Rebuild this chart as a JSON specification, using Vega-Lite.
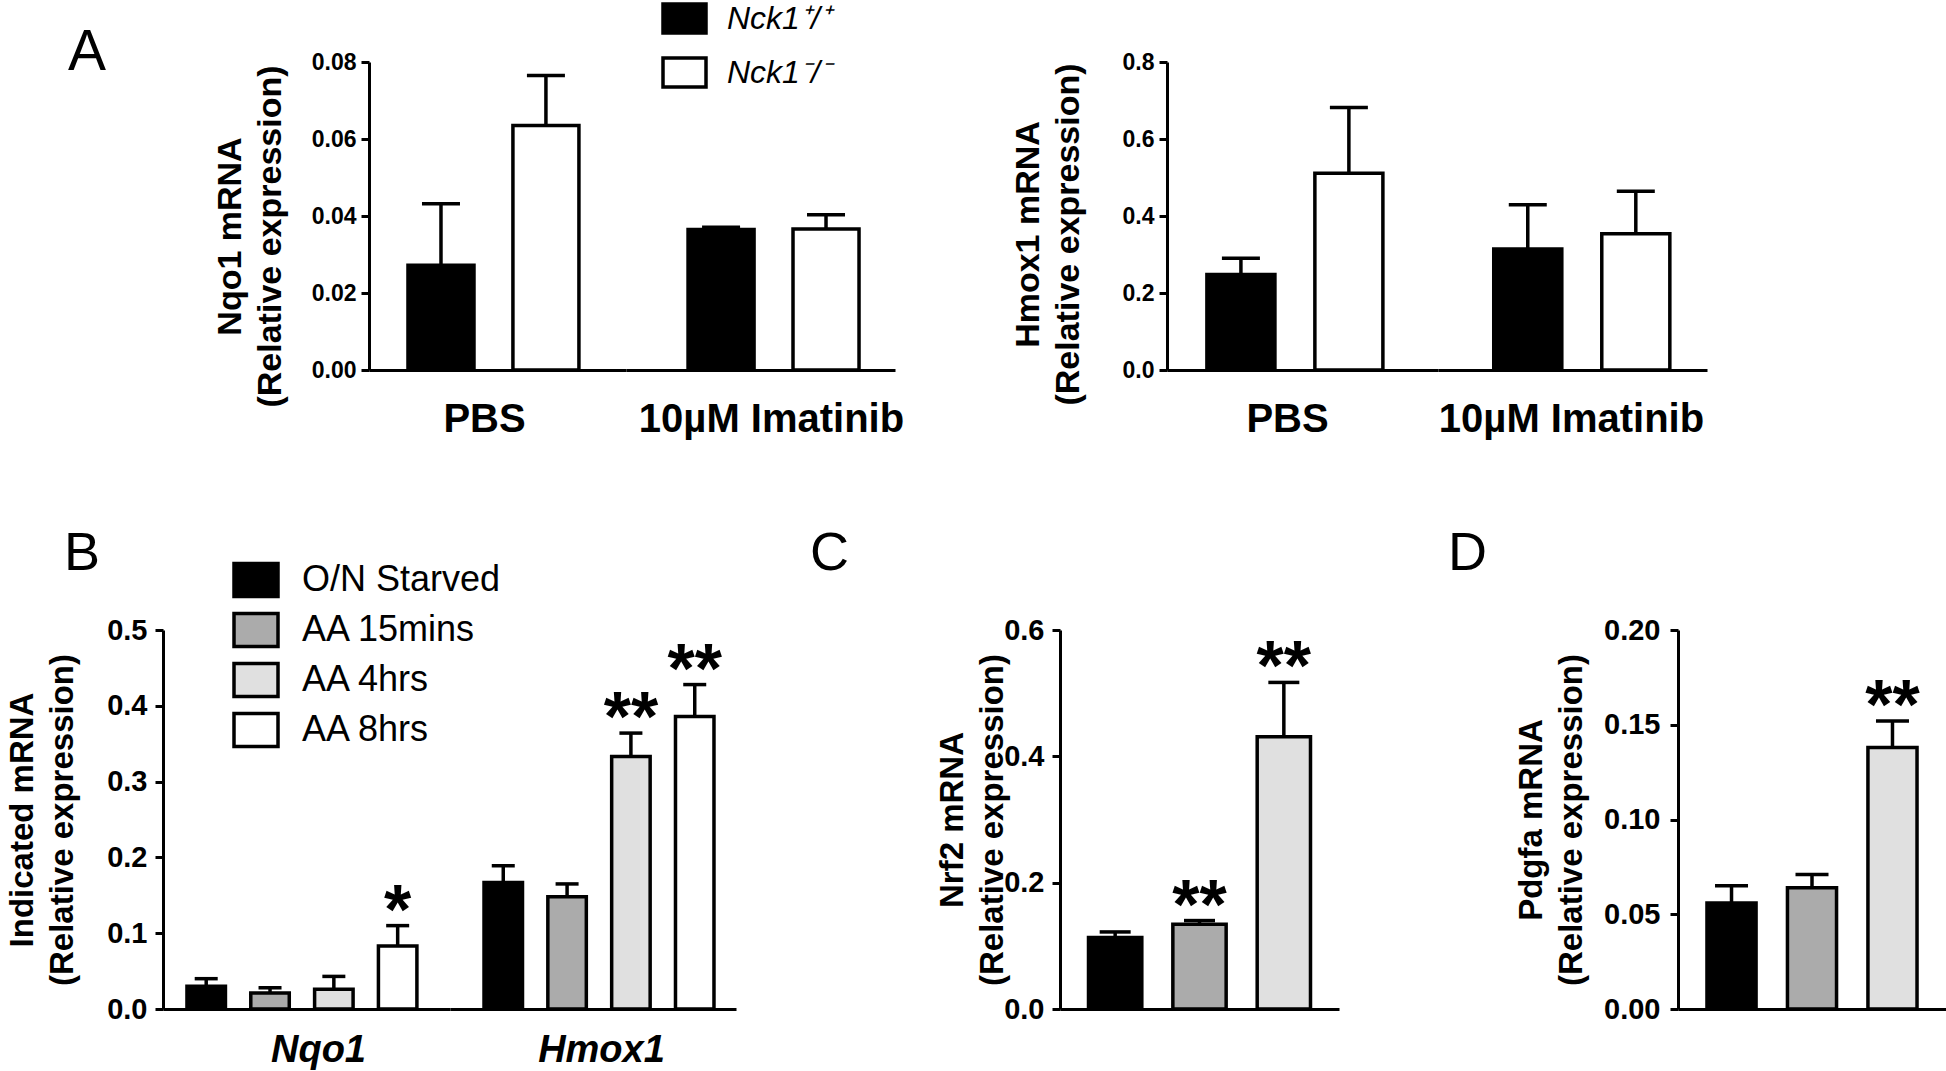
{
  "$schema": "https://vega.github.io/schema/vega-lite/v6.json",
  "autosize": {"type": "none"},
  "padding": {"left": 163, "top": 62, "right": 1783, "bottom": 1009},
  "background": "white",
  "config": {
    "view": {"stroke": null},
    "font": "Liberation Sans",
    "axis": {"domainColor": "black", "domainWidth": 3, "tickColor": "black", "tickWidth": 3, "tickSize": 8, "labelColor": "black", "titleColor": "black", "labelFont": "Liberation Sans", "titleFont": "Liberation Sans", "labelFontWeight": "bold", "titleFontWeight": "bold", "grid": false, "labelOverlap": false, "titleLineHeight": 40, "titleFontSize": 33, "labelLimit": 500},
    "title": {"font": "Liberation Sans", "fontWeight": "normal", "color": "black", "anchor": "start", "frame": "group", "baseline": "alphabetic", "fontSize": 54},
    "bar": {"stroke": "black", "strokeWidth": 3.5},
    "rule": {"strokeWidth": 3.5, "color": "black"},
    "tick": {"thickness": 3.5, "color": "black", "opacity": 1},
    "text": {"fontSize": 70, "fontWeight": "bold", "baseline": "alphabetic", "dy": 8, "color": "black"}
  },
  "datasets": {
    "nqo1A": [
      {"treatment": "PBS", "genotype": "Nck1⁺/⁺", "mean": 0.0272, "upper": 0.0432},
      {"treatment": "PBS", "genotype": "Nck1⁻/⁻", "mean": 0.0635, "upper": 0.0765},
      {"treatment": "10µM Imatinib", "genotype": "Nck1⁺/⁺", "mean": 0.0365, "upper": 0.0371},
      {"treatment": "10µM Imatinib", "genotype": "Nck1⁻/⁻", "mean": 0.0366, "upper": 0.0403}
    ],
    "hmox1A": [
      {"treatment": "PBS", "genotype": "Nck1⁺/⁺", "mean": 0.248, "upper": 0.290},
      {"treatment": "PBS", "genotype": "Nck1⁻/⁻", "mean": 0.511, "upper": 0.682},
      {"treatment": "10µM Imatinib", "genotype": "Nck1⁺/⁺", "mean": 0.314, "upper": 0.429},
      {"treatment": "10µM Imatinib", "genotype": "Nck1⁻/⁻", "mean": 0.354, "upper": 0.464}
    ],
    "panelB": [
      {"gene": "Nqo1", "condition": "O/N Starved", "mean": 0.030, "upper": 0.040, "sig": ""},
      {"gene": "Nqo1", "condition": "AA 15mins", "mean": 0.021, "upper": 0.028, "sig": ""},
      {"gene": "Nqo1", "condition": "AA 4hrs", "mean": 0.026, "upper": 0.043, "sig": ""},
      {"gene": "Nqo1", "condition": "AA 8hrs", "mean": 0.083, "upper": 0.110, "sig": "*"},
      {"gene": "Hmox1", "condition": "O/N Starved", "mean": 0.167, "upper": 0.189, "sig": ""},
      {"gene": "Hmox1", "condition": "AA 15mins", "mean": 0.148, "upper": 0.165, "sig": ""},
      {"gene": "Hmox1", "condition": "AA 4hrs", "mean": 0.333, "upper": 0.364, "sig": "**"},
      {"gene": "Hmox1", "condition": "AA 8hrs", "mean": 0.386, "upper": 0.428, "sig": "**"}
    ],
    "nrf2": [
      {"condition": "O/N Starved", "mean": 0.113, "upper": 0.122, "sig": ""},
      {"condition": "AA 15mins", "mean": 0.134, "upper": 0.140, "sig": "**"},
      {"condition": "AA 4hrs", "mean": 0.431, "upper": 0.517, "sig": "**"}
    ],
    "pdgfa": [
      {"condition": "O/N Starved", "mean": 0.056, "upper": 0.065, "sig": ""},
      {"condition": "AA 15mins", "mean": 0.064, "upper": 0.071, "sig": ""},
      {"condition": "AA 4hrs", "mean": 0.138, "upper": 0.152, "sig": "**"}
    ]
  },
  "resolve": {"scale": {"fill": "independent"}},
  "spacing": 87,
  "vconcat": [
    {
      "bounds": "flush",
      "spacing": 0,
      "hconcat": [
        {"width": 206, "height": 308, "data": {"values": []}, "mark": "point",
         "title": {"text": "A", "dx": -95, "offset": -20, "fontSize": 57}},
        {
          "width": 257, "height": 308,
          "data": {"name": "nqo1A"},
          "transform": [{"filter": {"field": "treatment", "equal": "PBS"}}],
          "encoding": {
            "x": {"field": "genotype", "type": "nominal", "scale": {"domain": ["Nck1⁺/⁺", "Nck1⁻/⁻"], "paddingInner": 0.371, "paddingOuter": 0.41, "align": 0.453},
              "axis": {"labels": false, "ticks": false, "tickSize": 0, "title": "PBS", "titleX": 115, "titleFontSize": 40, "titlePadding": 29}},
            "y": {"field": "mean", "type": "quantitative", "scale": {"domain": [0, 0.08]},
              "axis": {"title": ["Nqo1 mRNA", "(Relative expression)"], "values": [0, 0.02, 0.04, 0.06, 0.08], "format": ".2f", "labelFontSize": 23, "labelPadding": 5, "titlePadding": 24, "titleY": 174, "titleFontSize": 34}}
          },
          "layer": [
            {"mark": "bar", "encoding": {"fill": {"field": "genotype", "type": "nominal", "scale": {"domain": ["Nck1⁺/⁺", "Nck1⁻/⁻"], "range": ["#000000", "#ffffff"]},
              "legend": {"orient": "none", "legendX": 498, "legendY": -67, "title": null, "symbolType": "M-1,-0.674H1V0.674H-1Z", "symbolSize": 1849, "symbolStrokeColor": "black", "symbolStrokeWidth": 4, "labelFontSize": 32, "labelFontStyle": "italic", "labelFont": "Liberation Sans", "labelColor": "black", "labelOffset": 19, "rowPadding": 9, "padding": 0, "labelLimit": 300}}}},
            {"mark": "rule", "encoding": {"y2": {"field": "upper"}}},
            {"mark": {"type": "tick", "size": 38}, "encoding": {"y": {"field": "upper", "type": "quantitative",
              "axis": {"title": ["Nqo1 mRNA", "(Relative expression)"], "values": [0, 0.02, 0.04, 0.06, 0.08], "format": ".2f", "labelFontSize": 23, "labelPadding": 5, "titlePadding": 24, "titleY": 174, "titleFontSize": 34}}}}
          ]
        },
        {
          "width": 269, "height": 308,
          "data": {"name": "nqo1A"},
          "transform": [{"filter": {"field": "treatment", "equal": "10µM Imatinib"}}],
          "encoding": {
            "x": {"field": "genotype", "type": "nominal", "scale": {"domain": ["Nck1⁺/⁺", "Nck1⁻/⁻"], "paddingInner": 0.371, "paddingOuter": 0.467, "align": 0.633},
              "axis": {"labels": false, "ticks": false, "tickSize": 0, "title": "10µM Imatinib", "titleX": 145, "titleFontSize": 40, "titlePadding": 29}},
            "y": {"field": "mean", "type": "quantitative", "scale": {"domain": [0, 0.08]}, "axis": null}
          },
          "layer": [
            {"mark": "bar", "encoding": {"fill": {"field": "genotype", "type": "nominal", "scale": {"domain": ["Nck1⁺/⁺", "Nck1⁻/⁻"], "range": ["#000000", "#ffffff"]},
              "legend": {"orient": "none", "legendX": 498, "legendY": -67, "title": null, "symbolType": "M-1,-0.674H1V0.674H-1Z", "symbolSize": 1849, "symbolStrokeColor": "black", "symbolStrokeWidth": 4, "labelFontSize": 32, "labelFontStyle": "italic", "labelFont": "Liberation Sans", "labelColor": "black", "labelOffset": 19, "rowPadding": 9, "padding": 0, "labelLimit": 300}}}},
            {"mark": "rule", "encoding": {"y2": {"field": "upper"}}},
            {"mark": {"type": "tick", "size": 38}, "encoding": {"y": {"field": "upper", "type": "quantitative", "axis": null}}}
          ]
        },
        {"width": 272, "height": 308, "data": {"values": []}, "mark": "point"},
        {
          "width": 271, "height": 308,
          "data": {"name": "hmox1A"},
          "transform": [{"filter": {"field": "treatment", "equal": "PBS"}}],
          "encoding": {
            "x": {"field": "genotype", "type": "nominal", "scale": {"domain": ["Nck1⁺/⁺", "Nck1⁻/⁻"], "paddingInner": 0.37, "paddingOuter": 0.44, "align": 0.42},
              "axis": {"labels": false, "ticks": false, "tickSize": 0, "title": "PBS", "titleX": 120, "titleFontSize": 40, "titlePadding": 29}},
            "y": {"field": "mean", "type": "quantitative", "scale": {"domain": [0, 0.8]},
              "axis": {"title": ["Hmox1 mRNA", "(Relative expression)"], "values": [0, 0.2, 0.4, 0.6, 0.8], "format": ".1f", "labelFontSize": 23, "labelPadding": 5, "titlePadding": 37, "titleY": 172, "titleFontSize": 34}}
          },
          "layer": [
            {"mark": "bar", "encoding": {"fill": {"field": "genotype", "type": "nominal", "scale": {"domain": ["Nck1⁺/⁺", "Nck1⁻/⁻"], "range": ["#000000", "#ffffff"]},
              "legend": {"orient": "none", "legendX": 498, "legendY": -67, "title": null, "symbolType": "M-1,-0.674H1V0.674H-1Z", "symbolSize": 1849, "symbolStrokeColor": "black", "symbolStrokeWidth": 4, "labelFontSize": 32, "labelFontStyle": "italic", "labelFont": "Liberation Sans", "labelColor": "black", "labelOffset": 19, "rowPadding": 9, "padding": 0, "labelLimit": 300}}}},
            {"mark": "rule", "encoding": {"y2": {"field": "upper"}}},
            {"mark": {"type": "tick", "size": 38}, "encoding": {"y": {"field": "upper", "type": "quantitative",
              "axis": {"title": ["Hmox1 mRNA", "(Relative expression)"], "values": [0, 0.2, 0.4, 0.6, 0.8], "format": ".1f", "labelFontSize": 23, "labelPadding": 5, "titlePadding": 37, "titleY": 172, "titleFontSize": 34}}}}
          ]
        },
        {
          "width": 269, "height": 308,
          "data": {"name": "hmox1A"},
          "transform": [{"filter": {"field": "treatment", "equal": "10µM Imatinib"}}],
          "encoding": {
            "x": {"field": "genotype", "type": "nominal", "scale": {"domain": ["Nck1⁺/⁺", "Nck1⁻/⁻"], "paddingInner": 0.37, "paddingOuter": 0.43, "align": 0.6},
              "axis": {"labels": false, "ticks": false, "tickSize": 0, "title": "10µM Imatinib", "titleX": 133, "titleFontSize": 40, "titlePadding": 29}},
            "y": {"field": "mean", "type": "quantitative", "scale": {"domain": [0, 0.8]}, "axis": null}
          },
          "layer": [
            {"mark": "bar", "encoding": {"fill": {"field": "genotype", "type": "nominal", "scale": {"domain": ["Nck1⁺/⁺", "Nck1⁻/⁻"], "range": ["#000000", "#ffffff"]},
              "legend": {"orient": "none", "legendX": 498, "legendY": -67, "title": null, "symbolType": "M-1,-0.674H1V0.674H-1Z", "symbolSize": 1849, "symbolStrokeColor": "black", "symbolStrokeWidth": 4, "labelFontSize": 32, "labelFontStyle": "italic", "labelFont": "Liberation Sans", "labelColor": "black", "labelOffset": 19, "rowPadding": 9, "padding": 0, "labelLimit": 300}}}},
            {"mark": "rule", "encoding": {"y2": {"field": "upper"}}},
            {"mark": {"type": "tick", "size": 38}, "encoding": {"y": {"field": "upper", "type": "quantitative", "axis": null}}}
          ]
        }
      ]
    },
    {
      "bounds": "flush",
      "spacing": 0,
      "hconcat": [
        {
          "width": 287, "height": 379,
          "title": {"text": "B", "dx": -99, "offset": 35.5},
          "data": {"name": "panelB"},
          "transform": [{"filter": {"field": "gene", "equal": "Nqo1"}}],
          "encoding": {
            "x": {"field": "condition", "type": "nominal", "scale": {"domain": ["O/N Starved", "AA 15mins", "AA 4hrs", "AA 8hrs"], "paddingInner": 0.397, "paddingOuter": 0.447, "align": 0.42},
              "axis": {"labels": false, "ticks": false, "tickSize": 0, "title": "Nqo1", "titleX": 155, "titleFontSize": 38, "titleFontStyle": "italic", "titlePadding": 22}},
            "y": {"field": "mean", "type": "quantitative", "scale": {"domain": [0, 0.5]},
              "axis": {"title": ["Indicated mRNA", "(Relative expression)"], "values": [0, 0.1, 0.2, 0.3, 0.4, 0.5], "format": ".1f", "labelFontSize": 29, "labelPadding": 8, "titlePadding": 27}}
          },
          "layer": [
            {"mark": "bar", "encoding": {"fill": {"field": "condition", "type": "nominal", "scale": {"domain": ["O/N Starved", "AA 15mins", "AA 4hrs", "AA 8hrs"], "range": ["#000000", "#ababab", "#e0e0e0", "#ffffff"]},
              "legend": {"orient": "none", "legendX": 69, "legendY": -74, "title": null, "symbolType": "M-1,-0.75H1V0.75H-1Z", "symbolSize": 1936, "symbolStrokeColor": "black", "symbolStrokeWidth": 4, "labelFontSize": 36, "labelFont": "Liberation Sans", "labelColor": "black", "labelOffset": 22, "rowPadding": 2, "padding": 0, "labelLimit": 400}}}},
            {"mark": "rule", "encoding": {"y2": {"field": "upper"}}},
            {"mark": {"type": "tick", "size": 23}, "encoding": {"y": {"field": "upper", "type": "quantitative",
              "axis": {"title": ["Indicated mRNA", "(Relative expression)"], "values": [0, 0.1, 0.2, 0.3, 0.4, 0.5], "format": ".1f", "labelFontSize": 29, "labelPadding": 8, "titlePadding": 27}}}},
            {"mark": "text", "encoding": {"y": {"field": "upper", "type": "quantitative",
              "axis": {"title": ["Indicated mRNA", "(Relative expression)"], "values": [0, 0.1, 0.2, 0.3, 0.4, 0.5], "format": ".1f", "labelFontSize": 29, "labelPadding": 8, "titlePadding": 27}}, "text": {"field": "sig"}}}
          ]
        },
        {
          "width": 286, "height": 379,
          "data": {"name": "panelB"},
          "transform": [{"filter": {"field": "gene", "equal": "Hmox1"}}],
          "encoding": {
            "x": {"field": "condition", "type": "nominal", "scale": {"domain": ["O/N Starved", "AA 15mins", "AA 4hrs", "AA 8hrs"], "paddingInner": 0.397, "paddingOuter": 0.439, "align": 0.607},
              "axis": {"labels": false, "ticks": false, "tickSize": 0, "title": "Hmox1", "titleX": 151, "titleFontSize": 38, "titleFontStyle": "italic", "titlePadding": 22}},
            "y": {"field": "mean", "type": "quantitative", "scale": {"domain": [0, 0.5]}, "axis": null}
          },
          "layer": [
            {"mark": "bar", "encoding": {"fill": {"field": "condition", "type": "nominal", "scale": {"domain": ["O/N Starved", "AA 15mins", "AA 4hrs", "AA 8hrs"], "range": ["#000000", "#ababab", "#e0e0e0", "#ffffff"]},
              "legend": {"orient": "none", "legendX": 69, "legendY": -74, "title": null, "symbolType": "M-1,-0.75H1V0.75H-1Z", "symbolSize": 1936, "symbolStrokeColor": "black", "symbolStrokeWidth": 4, "labelFontSize": 36, "labelFont": "Liberation Sans", "labelColor": "black", "labelOffset": 22, "rowPadding": 2, "padding": 0, "labelLimit": 400}}}},
            {"mark": "rule", "encoding": {"y2": {"field": "upper"}}},
            {"mark": {"type": "tick", "size": 23}, "encoding": {"y": {"field": "upper", "type": "quantitative", "axis": null}}},
            {"mark": "text", "encoding": {"y": {"field": "upper", "type": "quantitative", "axis": null}, "text": {"field": "sig"}}}
          ]
        },
        {"width": 324, "height": 379, "data": {"values": []}, "mark": "point"},
        {
          "width": 279, "height": 379,
          "title": {"text": "C", "dx": -250, "offset": 35.5},
          "data": {"name": "nrf2"},
          "encoding": {
            "x": {"field": "condition", "type": "nominal", "title": null,
              "scale": {"domain": ["O/N Starved", "AA 15mins", "AA 4hrs"], "paddingInner": 0.368, "paddingOuter": 0.338},
              "axis": {"labels": false, "ticks": false, "tickSize": 0}},
            "y": {"field": "mean", "type": "quantitative", "scale": {"domain": [0, 0.6]},
              "axis": {"title": ["Nrf2 mRNA", "(Relative expression)"], "values": [0, 0.2, 0.4, 0.6], "format": ".1f", "labelFontSize": 29, "labelPadding": 8, "titlePadding": -6}}
          },
          "layer": [
            {"mark": "bar",
             "encoding": {"fill": {"field": "condition", "type": "nominal", "scale": {"domain": ["O/N Starved", "AA 15mins", "AA 4hrs", "AA 8hrs"], "range": ["#000000", "#ababab", "#e0e0e0", "#ffffff"]},
                 "legend": {"orient": "none", "legendX": 69, "legendY": -74, "title": null, "symbolType": "M-1,-0.75H1V0.75H-1Z", "symbolSize": 1936, "symbolStrokeColor": "black", "symbolStrokeWidth": 4, "labelFontSize": 36, "labelFont": "Liberation Sans", "labelColor": "black", "labelOffset": 22, "rowPadding": 2, "padding": 0, "labelLimit": 400}}}},
            {"mark": "rule", "encoding": {"y2": {"field": "upper"}}},
            {"mark": {"type": "tick", "size": 31},
             "encoding": {"y": {"field": "upper", "type": "quantitative", "axis": {"title": ["Nrf2 mRNA", "(Relative expression)"], "values": [0, 0.2, 0.4, 0.6], "format": ".1f", "labelFontSize": 29, "labelPadding": 8, "titlePadding": -6}}}},
            {"mark": "text",
             "encoding": {"y": {"field": "upper", "type": "quantitative", "axis": {"title": ["Nrf2 mRNA", "(Relative expression)"], "values": [0, 0.2, 0.4, 0.6], "format": ".1f", "labelFontSize": 29, "labelPadding": 8, "titlePadding": -6}}, "text": {"field": "sig"}}}
          ]
        },
        {"width": 339, "height": 379, "data": {"values": []}, "mark": "point"},
        {
          "width": 268, "height": 379,
          "title": {"text": "D", "dx": -230, "offset": 35.5},
          "data": {"name": "pdgfa"},
          "encoding": {
            "x": {"field": "condition", "type": "nominal", "title": null,
              "scale": {"domain": ["O/N Starved", "AA 15mins", "AA 4hrs"], "paddingInner": 0.39, "paddingOuter": 0.36},
              "axis": {"labels": false, "ticks": false, "tickSize": 0}},
            "y": {"field": "mean", "type": "quantitative", "scale": {"domain": [0, 0.2]},
              "axis": {"title": ["Pdgfa mRNA", "(Relative expression)"], "values": [0, 0.05, 0.1, 0.15, 0.2], "format": ".2f", "labelFontSize": 29, "labelPadding": 10, "titlePadding": 15}}
          },
          "layer": [
            {"mark": "bar",
             "encoding": {"fill": {"field": "condition", "type": "nominal", "scale": {"domain": ["O/N Starved", "AA 15mins", "AA 4hrs", "AA 8hrs"], "range": ["#000000", "#ababab", "#e0e0e0", "#ffffff"]},
                 "legend": {"orient": "none", "legendX": 69, "legendY": -74, "title": null, "symbolType": "M-1,-0.75H1V0.75H-1Z", "symbolSize": 1936, "symbolStrokeColor": "black", "symbolStrokeWidth": 4, "labelFontSize": 36, "labelFont": "Liberation Sans", "labelColor": "black", "labelOffset": 22, "rowPadding": 2, "padding": 0, "labelLimit": 400}}}},
            {"mark": "rule", "encoding": {"y2": {"field": "upper"}}},
            {"mark": {"type": "tick", "size": 33},
             "encoding": {"y": {"field": "upper", "type": "quantitative", "axis": {"title": ["Pdgfa mRNA", "(Relative expression)"], "values": [0, 0.05, 0.1, 0.15, 0.2], "format": ".2f", "labelFontSize": 29, "labelPadding": 10, "titlePadding": 15}}}},
            {"mark": "text",
             "encoding": {"y": {"field": "upper", "type": "quantitative", "axis": {"title": ["Pdgfa mRNA", "(Relative expression)"], "values": [0, 0.05, 0.1, 0.15, 0.2], "format": ".2f", "labelFontSize": 29, "labelPadding": 10, "titlePadding": 15}}, "text": {"field": "sig"}}}
          ]
        }
      ]
    }
  ]
}
